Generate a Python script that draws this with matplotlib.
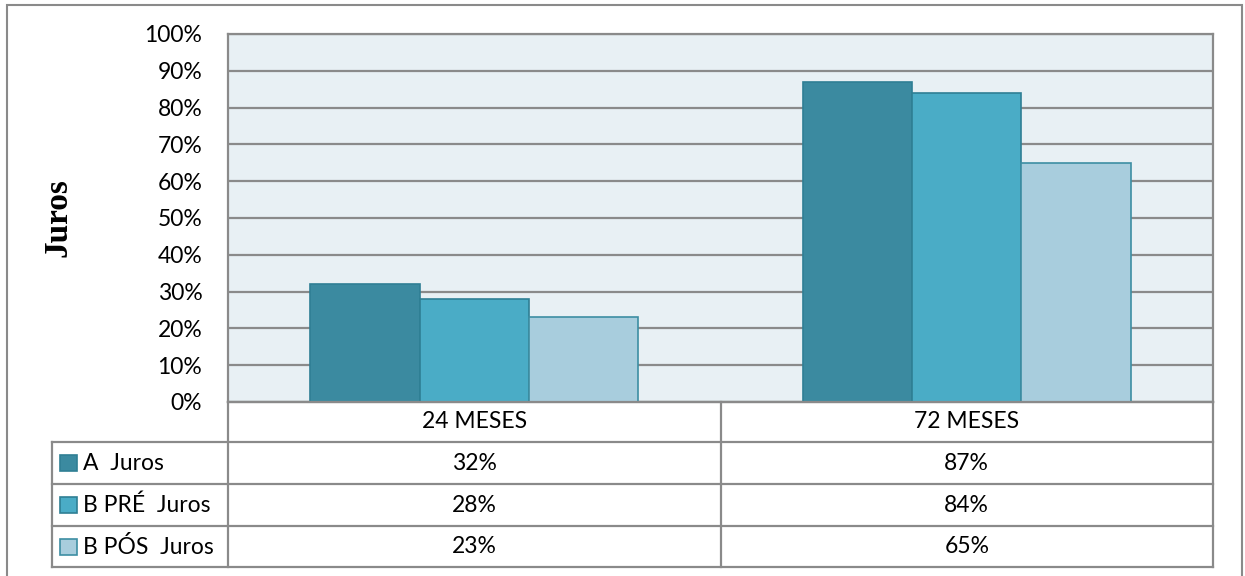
import matplotlib.pyplot as plt
from matplotlib.patches import Rectangle

categorias = ["24 MESES", "72 MESES"]
series = ["A  Juros", "B PRÉ  Juros", "B PÓS  Juros"]
valores = [
    [32, 87],   # A  Juros
    [28, 84],   # B PRÉ  Juros
    [23, 65],   # B PÓS  Juros
]
cores = ["#3B8AA0", "#4AACC6", "#A8CDDD"]
bordas = ["#2F7F94", "#2F7F94", "#3D8EA3"]
yticks = list(range(0, 101, 10))

plt.rcParams['font.family'] = ['Lato', 'DejaVu Sans']
cinza = "#8A8A8A"
fs = 16.5

W, H = 1245, 576
fig = plt.figure(figsize=(W / 100, H / 100), dpi=100)

def px(x0, y0, x1, y1):
    return [x0 / W, 1 - y1 / H, (x1 - x0) / W, (y1 - y0) / H]

# moldura externa
fig.add_artist(Rectangle((7 / W, -0.01), (1242 - 7) / W, 1 - 5 / H + 0.01,
                         transform=fig.transFigure, fill=False,
                         edgecolor=cinza, lw=1.5))

# grafico de barras
ax = fig.add_axes(px(228, 34, 1213, 402))
ax.set_facecolor("#E8F0F4")
n = len(series)
larg = 1 / 4.5
for i, (nome, vals) in enumerate(zip(series, valores)):
    xs = [c + (i - (n - 1) / 2) * larg for c in range(len(categorias))]
    ax.bar(xs, [v / 100 for v in vals], width=larg, color=cores[i],
           edgecolor=bordas[i], linewidth=1.2, zorder=3, label=nome)
ax.set_xlim(-0.5, len(categorias) - 0.5)
ax.set_ylim(0, 1)
ax.set_yticks([t / 100 for t in yticks])
ax.set_yticklabels([f"{t}%" for t in yticks], fontsize=fs)
ax.tick_params(axis='y', length=0, pad=18.5)
ax.set_xticks([])
ax.yaxis.grid(True, color=cinza, lw=1.6, zorder=1)
for s in ax.spines.values():
    s.set_color(cinza)
    s.set_linewidth(1.6)
ax.set_ylabel("Juros", family="Liberation Serif", fontweight="bold",
              fontsize=24)
ax.yaxis.set_label_coords((74 - 228) / 985, 0.5)

# tabela de dados abaixo do grafico
tb = fig.add_axes(px(52, 402, 1213, 567))
lab_w = (228 - 52) / ((1213 - 228) / len(categorias))
x_esq = -0.5 - lab_w
x_dir = len(categorias) - 0.5
tb.set_xlim(x_esq, x_dir)
linhas = [0, 40, 82, 124, 165]
tb.set_ylim(linhas[-1], 0)
tb.axis("off")

kw = dict(color=cinza, lw=1.6, solid_capstyle="projecting", clip_on=False)
# cabecalho
tb.plot([-0.5, x_dir], [0, 0], **kw)
for j in range(len(categorias) + 1):
    tb.plot([j - 0.5, j - 0.5], [0, linhas[-1]], **kw)
for y in linhas[1:]:
    tb.plot([x_esq, x_dir], [y, y], **kw)
tb.plot([x_esq, x_esq], [linhas[1], linhas[-1]], **kw)

for j, cat in enumerate(categorias):
    tb.text(j, (linhas[0] + linhas[1]) / 2, cat, ha="center", va="center",
            fontsize=fs)

px_unit = (1213 - 52) / (x_dir - x_esq)
for i, (nome, vals) in enumerate(zip(series, valores)):
    yc = (linhas[i + 1] + linhas[i + 2]) / 2
    tb.add_patch(Rectangle((x_esq + 8 / px_unit, yc - 8), 17 / px_unit, 16,
                           facecolor=cores[i], edgecolor=bordas[i], lw=1.2))
    tb.text(x_esq + 31 / px_unit, yc, nome, ha="left", va="center",
            fontsize=fs)
    for j, v in enumerate(vals):
        tb.text(j, yc, f"{v}%", ha="center", va="center", fontsize=fs)

fig.savefig("out.png", dpi=100)
